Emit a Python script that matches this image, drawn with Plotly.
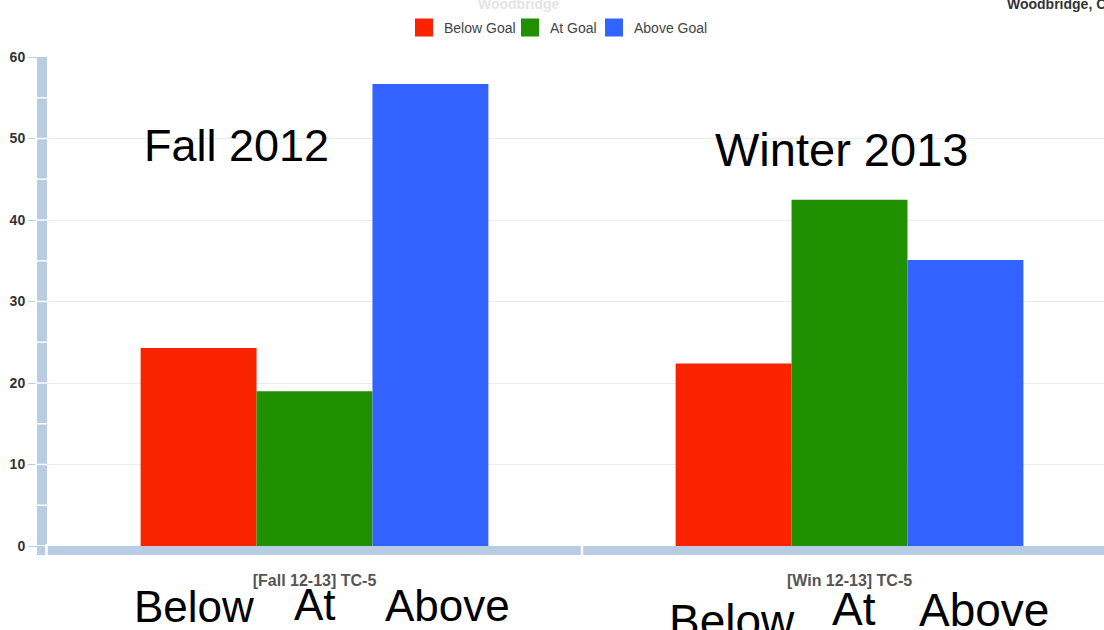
import plotly.graph_objects as go

# ---- data -------------------------------------------------------------
groups = ["[Fall 12-13] TC-5", "[Win 12-13] TC-5"]
series_names = ["Below Goal", "At Goal", "Above Goal"]
below_goal = [24.3, 22.4]
at_goal = [19.0, 42.5]
above_goal = [56.7, 35.1]
series_colors = ["#fa2300", "#1f9100", "#3262ff"]
term_titles = ["Fall 2012", "Winter 2013"]
level_words = ["Below", "At", "Above"]
y_ticks = [0, 10, 20, 30, 40, 50, 60]
y_minor = [5, 10, 15, 20, 25, 30, 35, 40, 45, 50, 55]

# ---- page geometry -----------------------------------------------------
W, H = 1104, 630
ML, MR, MT, MB = 47, 0, 57, 84
FONT = "Liberation Sans, Arial, sans-serif"


def fx(px):
    return (px - ML) / (W - ML - MR)


def fy(py):
    return (H - MB - py) / (H - MT - MB)


fig = go.Figure()
for name, vals, col in zip(series_names, [below_goal, at_goal, above_goal], series_colors):
    fig.add_trace(go.Bar(x=groups, y=vals, name=name, legendgroup=name, showlegend=False,
                         marker=dict(color=col, line=dict(width=0))))
# legend entries with large square swatches (entry widths keep the row compact)
legend_entry_widths = [61, 39, 0]
for name, col, lw in zip(series_names, series_colors, legend_entry_widths):
    fig.add_trace(go.Scatter(x=[None], y=[None], mode="markers", name=name, legendgroup=name,
                             legendwidth=lw,
                             marker=dict(symbol="square", size=16, color=col,
                                         line=dict(width=2, color=col))))

axis_blue = "#b8cce4"

annotations = []
# big term captions
annotations.append(dict(text=term_titles[0], x=fx(236.5), y=fy(145.5), size=45))
annotations.append(dict(text=term_titles[1], x=fx(841.5), y=fy(149.5), size=47))
# level words under each group
for word, cx, cy in zip(level_words, [194, 314.5, 447], [606.5, 604, 605.5]):
    annotations.append(dict(text=word, x=fx(cx), y=fy(cy), size=44))
for word, cx, cy in zip(level_words, [731.5, 853.5, 983.5], [621, 608.5, 610]):
    annotations.append(dict(text=word, x=fx(cx), y=fy(cy), size=46))

ann_objs = []
for a in annotations:
    ann_objs.append(dict(
        text=a["text"], x=a["x"], y=a["y"], xref="paper", yref="paper",
        xanchor="center", yanchor="middle", showarrow=False,
        font=dict(family=FONT, size=a["size"], color="#000000"),
    ))
# header texts
ann_objs.append(dict(text="Woodbridge", x=fx(519), y=fy(4), xref="paper", yref="paper",
                     xanchor="center", yanchor="middle", showarrow=False,
                     font=dict(family=FONT, size=14, color="#e4e4e4", weight="bold")))
ann_objs.append(dict(text="Woodbridge, CT", x=fx(1005), y=fy(4.5), xref="paper", yref="paper",
                     xanchor="left", yanchor="middle", showarrow=False,
                     font=dict(family=FONT, size=14, color="#333333", weight="bold")))

# white notches cutting the thick axis bands
shapes = []
for v in y_minor + [0]:
    shapes.append(dict(type="line", xref="paper", yref="y", x0=fx(35), x1=fx(47), y0=v, y1=v,
                       line=dict(color="white", width=1.5), layer="above"))
shapes.append(dict(type="line", xref="paper", yref="paper", x0=fx(46.5), x1=fx(46.5),
                   y0=fy(544), y1=fy(558), line=dict(color="white", width=2.5), layer="above"))
shapes.append(dict(type="line", xref="x", yref="paper", x0=0.5, x1=0.5,
                   y0=fy(544), y1=fy(558), line=dict(color="white", width=2.5), layer="above"))

fig.update_layout(
    width=W, height=H,
    margin=dict(l=ML, r=MR, t=MT, b=MB, pad=0),
    paper_bgcolor="white", plot_bgcolor="white",
    barmode="group", bargap=0.35, bargroupgap=0,
    font=dict(family=FONT),
    legend=dict(orientation="h", x=fx(404), xanchor="left", y=fy(28), yanchor="middle",
                font=dict(family=FONT, size=14, color="#444444"), itemwidth=30,
                bgcolor="rgba(0,0,0,0)"),
    annotations=ann_objs,
    shapes=shapes,
    xaxis=dict(type="category", range=[-0.5, -0.5 + (W - ML - MR) / 535.0],
               showline=True, linecolor=axis_blue, linewidth=9, ticks="",
               showgrid=False, zeroline=False, ticklabelstandoff=12,
               tickfont=dict(family=FONT, size=16, color="#555555", weight="bold")),
    yaxis=dict(range=[0, 60], tickvals=y_ticks, showgrid=True, gridcolor="#ececec", gridwidth=1,
               showline=True, linecolor=axis_blue, linewidth=10, zeroline=False,
               ticks="outside", ticklen=9, tickcolor=axis_blue, tickwidth=1,
               tickfont=dict(family=FONT, size=14, color="#333333", weight="bold")),
)

fig.write_html("out.html")
